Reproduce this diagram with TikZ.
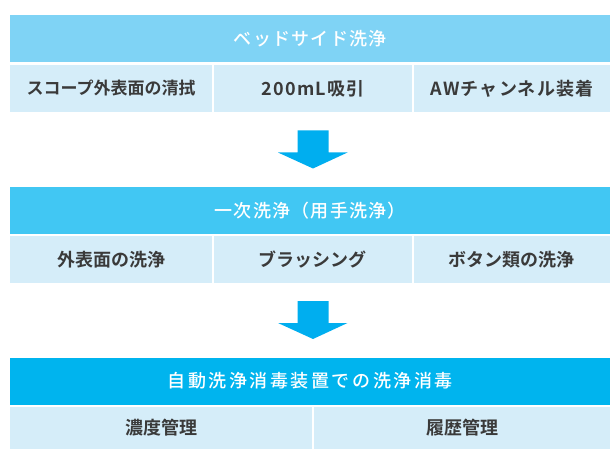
\documentclass[tikz,border=0pt]{standalone}
\usepackage{fontspec}
\setmainfont{Noto Sans CJK JP}[BoldFont={Noto Sans CJK JP Bold}]
\newfontfamily\bandfontA{Noto Sans CJK JP Medium}[LetterSpace=7]
\newfontfamily\bandfontC{Noto Sans CJK JP Medium}[LetterSpace=14]
\newfontfamily\cellwide{Noto Sans CJK JP Bold}[LetterSpace=6.5]
\definecolor{bandA}{HTML}{7FD3F5}
\definecolor{bandB}{HTML}{41C7F3}
\definecolor{bandC}{HTML}{00B4EE}
\definecolor{arrowc}{HTML}{00AEEF}
\definecolor{cellbg}{HTML}{D5EDF9}
\definecolor{txt}{HTML}{3A3A3A}
\begin{document}
\begin{tikzpicture}[x=1pt,y=-1pt,
  band/.style={rectangle, inner sep=0pt, anchor=north west, minimum width=600, minimum height=47.3,
    text=white, font=\bandfontA\fontsize{18}{20}\selectfont},
  cell/.style={rectangle, inner sep=0pt, anchor=north west, fill=cellbg, minimum height=47.5,
    text=txt, font=\bfseries\fontsize{18}{20}\selectfont},
  widecell/.style={font=\cellwide\fontsize{18}{20}\selectfont},
  blockarrow/.style={fill=arrowc}]
\useasboundingbox[fill=white] (0,0) rectangle (610,449);
% Stage 1
\node[band, fill=bandA] (b1) at (10,15) {ベッドサイド洗浄};
\node[cell, minimum width=202, font=\bfseries\fontsize{17}{20}\selectfont] (c11) at (10,64.5) {スコープ外表面の清拭};
\node[cell, widecell, minimum width=198.5] (c12) at (213.5,64.5) {200mL吸引};
\node[cell, widecell, minimum width=196.5] (c13) at (413.5,64.5) {AWチャンネル装着};
% Stage 2
\node[band, fill=bandB] (b2) at (10,186.5) {一次洗浄（用手洗浄）};
\node[cell, minimum width=202] (c21) at (10,235.5) {外表面の洗浄};
\node[cell, minimum width=198.5] (c22) at (213.5,235.5) {ブラッシング};
\node[cell, minimum width=196.5] (c23) at (413.5,235.5) {ボタン類の洗浄};
% Stage 3
\node[band, fill=bandC, font=\bandfontC\fontsize{18}{20}\selectfont] (b3) at (10,357.3) {自動洗浄消毒装置での洗浄消毒};
\node[cell, minimum width=302, minimum height=42.5] (c31) at (10,406.5) {濃度管理};
\node[cell, minimum width=296.3, minimum height=42.5] (c32) at (313.7,406.5) {履歴管理};
% Arrows
\coordinate (a1) at (313,130.5);
\coordinate (a2) at (313,301);
\foreach \a in {a1,a2}{
  \fill[blockarrow] ([xshift=-15.5pt]\a) -- ([xshift=15.5pt]\a) -- ([xshift=15.5pt,yshift=-22pt]\a)
    -- ([xshift=34.5pt,yshift=-22pt]\a) -- ([yshift=-38pt]\a) -- ([xshift=-35pt,yshift=-22pt]\a)
    -- ([xshift=-15.5pt,yshift=-22pt]\a) -- cycle;
}
\end{tikzpicture}
\end{document}
